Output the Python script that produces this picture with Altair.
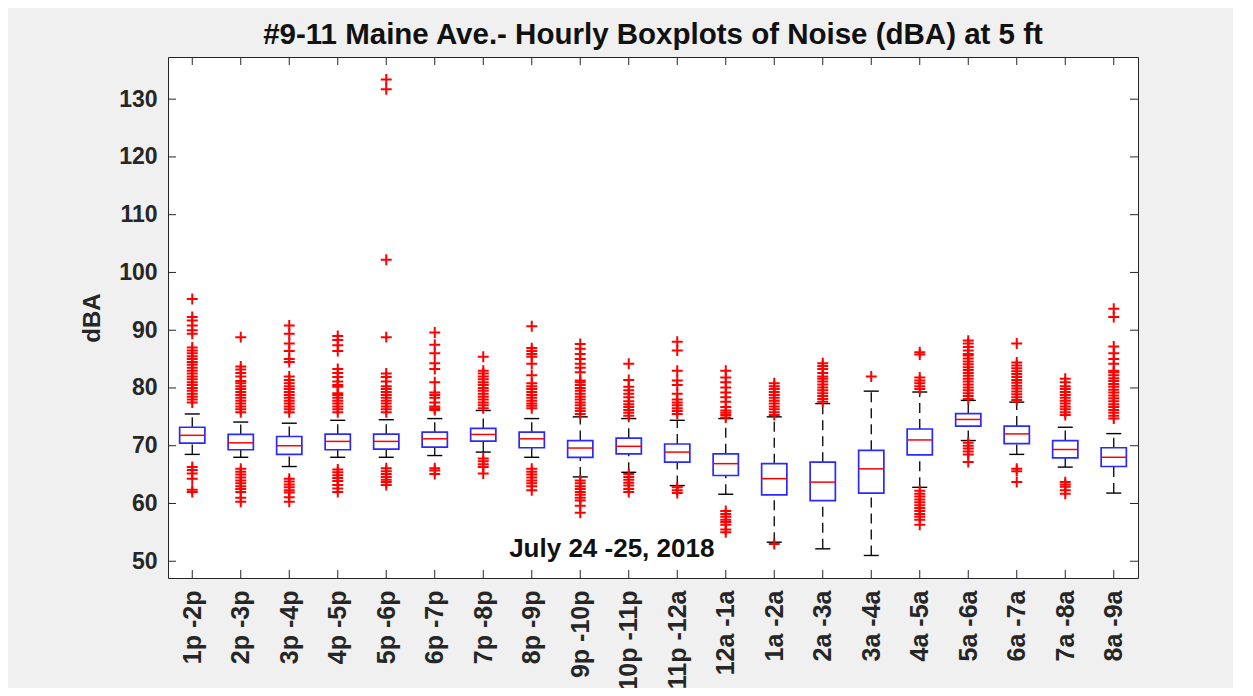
import altair as alt
import pandas as pd

categories = ["1p -2p", "2p -3p", "3p -4p", "4p -5p", "5p -6p", "6p -7p", "7p -8p",
              "8p -9p", "9p -10p", "10p -11p", "11p -12a", "12a -1a", "1a -2a",
              "2a -3a", "3a -4a", "4a -5a", "5a -6a", "6a -7a", "7a -8a", "8a -9a"]
q1 = [70.45, 69.3, 68.5, 69.3, 69.4, 69.75, 70.8, 69.65, 68.0, 68.6,
      67.15, 64.85, 61.5, 60.5, 61.8, 68.4, 73.4, 70.35, 67.9, 66.4]
median = [71.8, 70.5, 70.0, 70.75, 70.75, 71.2, 71.95, 71.2, 69.6, 69.9,
          68.9, 66.9, 64.3, 63.7, 66.0, 71.0, 74.55, 72.05, 69.35, 68.0]
q3 = [73.2, 71.95, 71.6, 72.0, 72.0, 72.35, 73.0, 72.35, 70.9, 71.3,
      70.3, 68.6, 66.9, 67.15, 69.2, 72.9, 75.55, 73.4, 70.9, 69.65]
whisker_low = [68.5, 68.0, 66.4, 68.0, 68.0, 68.3, 68.9, 68.0, 64.6, 65.4,
               63.1, 61.6, 53.3, 52.15, 51.0, 62.8, 70.9, 68.5, 66.3, 61.8]
whisker_high = [75.5, 74.1, 73.9, 74.4, 74.5, 74.7, 76.1, 74.7, 75.0, 74.7,
                74.4, 74.7, 75.0, 77.3, 79.45, 79.3, 77.85, 77.55, 73.2, 72.1]
outliers_high = [
    [77.5, 78, 78.5, 79, 79.5, 80, 80.5, 81, 81.5, 82, 82.5, 83, 83.5, 84, 84.5, 85, 85.5, 86, 86.5, 87,
     89.4, 90.0, 90.8, 91.7, 92.3, 95.4],
    [75.8, 76.3, 76.8, 77.3, 77.8, 78.3, 78.8, 79.3, 79.8, 80.3, 80.8, 81.2, 82.0, 82.6, 83.2, 83.7, 88.8],
    [75.8, 76.3, 76.8, 77.3, 77.8, 78.3, 78.8, 79.3, 79.8, 80.3, 80.8, 81.4, 82.0, 84.5, 85.0, 86.4,
     87.7, 89.4, 90.8],
    [75.8, 76.3, 76.8, 77.3, 77.8, 78.3, 78.8, 79.1, 80.2, 80.5, 81.1, 81.9, 82.6, 83.3, 86.4, 87.4,
     88.3, 89.0],
    [75.8, 76.3, 76.8, 77.3, 77.8, 78.3, 78.8, 79.3, 79.8, 80.3, 81.1, 81.9, 82.5, 88.8, 102.2, 131.7, 133.4],
    [76.2, 76.5, 76.8, 77.5, 78.3, 78.8, 79.2, 81.0, 83.3, 84.3, 86.0, 87.5, 89.6],
    [76.5, 77, 77.5, 78, 78.5, 79, 79.5, 80, 80.5, 81, 81.5, 82, 82.5, 83, 85.4],
    [76.5, 76.9, 77.3, 77.8, 78.3, 78.8, 79.3, 79.8, 80.3, 80.8, 82.2, 84.2, 85.4, 85.9, 86.4, 86.9, 90.7],
    [75.5, 76, 76.5, 77, 77.5, 78, 78.5, 79, 79.5, 80, 80.5, 81, 81.3, 82.7, 83.5, 84.2, 85.0, 85.9,
     86.8, 87.6],
    [75.2, 75.7, 76.2, 76.7, 77.2, 77.7, 78.4, 79.0, 79.6, 80.2, 81.4, 84.2],
    [75.5, 76.0, 76.5, 77.0, 77.5, 78.0, 79.0, 80.5, 81.3, 83.0, 86.5, 88.0],
    [74.9, 75.3, 75.7, 76.1, 76.7, 77.6, 78.4, 79.2, 80.1, 81.0, 81.8, 83.0],
    [75.3, 75.8, 76.3, 76.8, 77.3, 77.8, 78.3, 78.8, 79.3, 79.8, 80.3, 80.8],
    [77.6, 78.1, 78.6, 79.1, 79.6, 80.1, 80.6, 81.1, 81.6, 82.0, 82.6, 83.3, 83.8, 84.3],
    [82.0],
    [79.8, 80.3, 80.8, 81.3, 81.8, 85.8, 86.2],
    [78.1, 78.6, 79.1, 79.6, 80.1, 80.6, 81.1, 81.6, 82.1, 82.6, 83.1, 83.6, 84.1, 84.6, 85.1, 85.6,
     85.9, 86.5, 87.1, 87.7, 88.2],
    [77.9, 78.4, 78.9, 79.4, 79.9, 80.4, 80.9, 81.4, 81.9, 82.4, 82.9, 83.4, 83.9, 84.4, 87.7],
    [75.3, 75.8, 76.3, 76.8, 77.3, 77.8, 78.3, 78.8, 79.3, 79.8, 80.3, 81.0, 81.6],
    [74.7, 75.2, 75.7, 76.2, 76.7, 77.2, 77.7, 78.2, 78.7, 79.2, 79.7, 80.2, 80.7, 81.2, 81.7, 82.2,
     82.7, 83.0, 84.2, 85.0, 86.0, 87.2, 92.3, 93.7],
]
outliers_low = [
    [66.3, 65.8, 65.2, 64.3, 62.4, 62.0],
    [66.0, 65.5, 65.0, 64.5, 64.0, 63.5, 63.0, 62.5, 62.0, 61.0, 60.3],
    [64.3, 63.8, 63.3, 62.8, 62.3, 61.9, 61.1, 60.3],
    [65.9, 65.4, 64.9, 64.4, 63.9, 63.2, 62.6, 62.0],
    [66.1, 65.6, 65.1, 64.6, 64.1, 63.7, 63.2],
    [66.1, 65.7, 65.1],
    [67.8, 67.3, 66.8, 66.3, 65.2],
    [66.0, 65.5, 65.0, 64.5, 64.0, 63.5, 63.0, 62.3],
    [64.0, 63.5, 63.0, 62.5, 62.0, 61.5, 61.0, 60.5, 59.6, 58.4],
    [65.1, 64.6, 64.1, 63.6, 63.1, 62.5, 62.0],
    [62.8, 62.3, 61.8],
    [58.7, 58.2, 57.7, 57.2, 56.8, 56.3, 55.5, 55.0],
    [53.0],
    [],
    [],
    [62.2, 61.7, 61.2, 60.7, 60.2, 59.7, 59.2, 58.7, 58.2, 57.7, 57.2, 56.3],
    [70.5, 70.0, 69.5, 69.0, 68.5, 67.2],
    [66.0, 65.6, 63.7],
    [63.7, 63.3, 62.9, 62.3, 61.7],
    [],
]
y_ticks = [50, 60, 70, 80, 90, 100, 110, 120, 130]
y_domain = [47.1, 137.3]
title_text = ["#9-11 Maine Ave.- Hourly Boxplots of Noise (dBA) at 5 ft"]
y_title = "dBA"
note_text = ["July 24 -25, 2018"]
note_x = [9.65]
note_y = [50.8]

W, H = 970, 521
FONT = "Liberation Sans"
INK = "#262626"

positions = list(range(1, len(categories) + 1))
boxes = pd.DataFrame({"i": positions, "cat": categories, "q1": q1, "med": median,
                      "q3": q3, "wlo": whisker_low, "whi": whisker_high})
outs = pd.DataFrame([{"i": k + 1, "v": v}
                     for k in range(len(categories))
                     for v in outliers_high[k] + outliers_low[k]])
xt = pd.DataFrame({"t": positions})
yt = pd.DataFrame({"t": y_ticks})
note = pd.DataFrame({"x": note_x, "y": note_y, "t": note_text})
ttl = pd.DataFrame({"t": title_text})

xs = alt.Scale(domain=[0.5, len(categories) + 0.5], nice=False, zero=False)
ys = alt.Scale(domain=y_domain, nice=False, zero=False)

label_expr = "[" + ",".join("'%s'" % c for c in categories) + "][datum.value - 1]"
xax = alt.Axis(values=positions, labelExpr=label_expr, labelAngle=270, ticks=False,
               domain=False, grid=False, labelFont=FONT, labelFontSize=25,
               labelFontWeight="bold", labelColor=INK, labelPadding=12, title=None)
yax = alt.Axis(values=y_ticks, ticks=False, domain=False, grid=False, labelFont=FONT,
               labelFontSize=23, labelFontWeight="bold", labelColor=INK, labelPadding=11,
               title=y_title, titleFont=FONT, titleFontSize=24, titleFontWeight="bold",
               titleColor=INK, titlePadding=14)


def X(field):
    return alt.X(field, type="quantitative", scale=xs, axis=xax)


def Y(field):
    return alt.Y(field, type="quantitative", scale=ys, axis=yax)


base = alt.Chart(boxes).transform_calculate(
    x0="datum.i - 0.26", x1="datum.i + 0.26",
    c0="datum.i - 0.155", c1="datum.i + 0.155")

whisk_up = base.mark_rule(color="black", strokeWidth=1.3, strokeDash=[10, 6]).encode(
    x=X("i"), y=Y("q3"), y2="whi:Q")
whisk_dn = base.mark_rule(color="black", strokeWidth=1.3, strokeDash=[10, 6]).encode(
    x=X("i"), y=Y("wlo"), y2="q1:Q")
cap_up = base.mark_rule(color="black", strokeWidth=1.4).encode(
    x=X("c0"), x2="c1:Q", y=Y("whi"))
cap_dn = base.mark_rule(color="black", strokeWidth=1.4).encode(
    x=X("c0"), x2="c1:Q", y=Y("wlo"))
box = base.mark_rect(fill="white", stroke="#2a2aff", strokeWidth=1.7).encode(
    x=X("x0"), x2="x1:Q", y=Y("q1"), y2="q3:Q")
med = base.mark_rule(color="#ff0000", strokeWidth=1.5).encode(
    x=X("x0"), x2="x1:Q", y=Y("med"))
pts = alt.Chart(outs).mark_point(shape="M-1,0L1,0M0,-1L0,1", size=120, filled=False,
                                 color="#ff0000", strokeWidth=2, opacity=1).encode(
    x=X("i"), y=Y("v"))

tick_bot = alt.Chart(xt).mark_rule(color=INK, strokeWidth=1).encode(
    x=X("t"), y=alt.value(H), y2=alt.value(H - 8))
tick_top = alt.Chart(xt).mark_rule(color=INK, strokeWidth=1).encode(
    x=X("t"), y=alt.value(0), y2=alt.value(8))
tick_left = alt.Chart(yt).mark_rule(color=INK, strokeWidth=1).encode(
    y=Y("t"), x=alt.value(0), x2=alt.value(8))
tick_right = alt.Chart(yt).mark_rule(color=INK, strokeWidth=1).encode(
    y=Y("t"), x=alt.value(W - 8), x2=alt.value(W))

txt = alt.Chart(note).mark_text(font=FONT, fontSize=26, fontWeight="bold", color="#111111",
                                align="center", baseline="alphabetic").encode(
    x=X("x"), y=Y("y"), text="t:N")

title = alt.Chart(ttl).mark_text(font=FONT, fontSize=29.5, fontWeight="bold", color="#111111",
                                 align="center", baseline="alphabetic").encode(
    x=alt.value(W / 2), y=alt.value(-13), text="t:N")

chart = alt.layer(whisk_up, whisk_dn, cap_up, cap_dn, box, med, pts,
                  tick_bot, tick_top, tick_left, tick_right, txt, title).properties(
    width=W, height=H,
    padding={"left": 160, "top": 49, "right": 95, "bottom": 110},
    autosize=alt.AutoSizeParams(type="none"),
).configure(background="#f0f0f0").configure_view(fill="white", stroke=INK, strokeWidth=1)

chart.save("out.html", embed_options={"renderer": "svg", "actions": False})
